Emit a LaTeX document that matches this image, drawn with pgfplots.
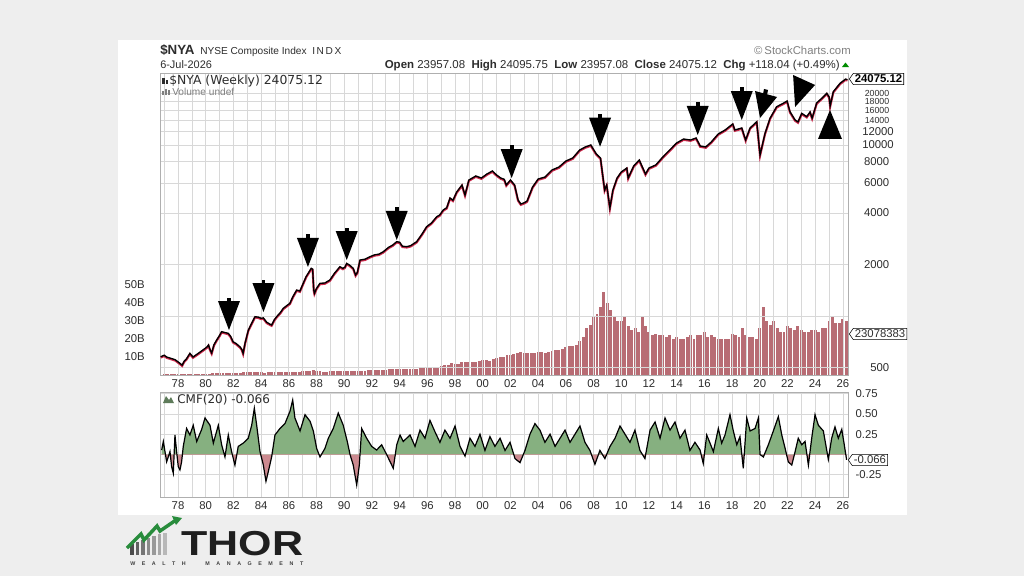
\documentclass[border=0pt]{standalone}
\usepackage{fontspec}
\setmainfont{Liberation Sans}
\newfontfamily\dejavu{DejaVu Sans}
\usepackage{pgfplots}
\usepackage{pgfplotstable}
\pgfplotsset{compat=1.18}
\usetikzlibrary{shapes.symbols}

\definecolor{bggray}{RGB}{238,238,238}
\definecolor{gridc}{RGB}{216,216,216}
\definecolor{framec}{RGB}{175,175,175}
\definecolor{volc}{RGB}{184,108,116}
\definecolor{cmfg}{RGB}{134,176,128}
\definecolor{cmfr}{RGB}{204,138,144}
\definecolor{pricered}{RGB}{205,40,75}
\definecolor{txt}{RGB}{45,45,45}
\definecolor{thorgreen}{RGB}{40,140,60}

\pgfplotstableread{
yr val
1976.75 578
1977.0 590
1977.2 575
1977.42 568
1977.8 555
1978.14 529
1978.3 516
1978.45 545
1978.6 560
1978.86 605
1979.08 576
1979.4 600
1979.8 633
1980.1 660
1980.2 677
1980.3 640
1980.43 608
1980.6 680
1980.79 724
1981.0 770
1981.15 810
1981.4 800
1981.63 792
1981.8 760
1981.97 708
1982.2 690
1982.47 661
1982.6 640
1982.7 605
1982.85 700
1983.08 828
1983.3 900
1983.56 991
1983.8 985
1984.0 970
1984.16 975
1984.4 920
1984.6 900
1984.76 886
1984.95 950
1985.12 991
1985.4 1050
1985.6 1109
1985.85 1150
1986.08 1187
1986.3 1300
1986.57 1419
1986.8 1400
1987.04 1553
1987.25 1700
1987.40 1778
1987.62 1900
1987.72 1880
1987.8 1420
1987.85 1358
1988.0 1450
1988.25 1553
1988.6 1560
1988.97 1625
1989.3 1780
1989.69 1942
1989.9 1900
1990.05 1930
1990.18 2031
1990.4 1980
1990.65 1900
1990.82 1737
1990.95 1800
1991.14 2125
1991.5 2150
1991.86 2223
1992.2 2280
1992.5 2300
1992.82 2376
1993.2 2520
1993.5 2600
1993.79 2721
1994.0 2700
1994.2 2560
1994.51 2543
1994.8 2580
1995.23 2721
1995.6 3000
1995.95 3329
1996.3 3500
1996.68 3808
1996.9 3900
1997.15 4169
1997.4 4300
1997.64 4898
1997.85 4750
1998.12 5309
1998.5 5836
1998.72 5101
1999.0 6240
1999.5 6590
1999.9 6412
2000.3 6765
2000.7 7048
2001.0 6677
2001.3 6412
2001.55 6300
2001.7 5836
2002.0 6240
2002.3 5836
2002.55 4769
2002.75 4518
2003.0 4600
2003.2 4700
2003.6 5681
2004.0 6324
2004.5 6500
2005.0 7144
2005.5 7432
2006.0 8054
2006.5 8395
2007.0 9350
2007.4 9735
2007.8 10000
2008.2 8859
2008.5 8395
2008.8 5456
2008.95 5836
2009.18 4283
2009.4 5456
2009.7 6412
2010.0 6952
2010.4 7334
2010.5 6412
2010.9 7540
2011.3 8168
2011.75 6765
2012.0 7334
2012.5 7650
2013.0 8506
2013.5 9350
2014.0 10274
2014.5 10839
2015.0 10696
2015.4 10987
2015.7 9866
2016.1 9735
2016.5 10411
2017.0 11593
2017.5 12240
2018.05 13275
2018.2 12240
2018.7 12573
2018.98 10696
2019.3 12573
2019.78 13677
2020.02 8742
2020.38 11700
2020.74 14324
2021.22 16749
2021.7 17537
2021.97 18080
2022.18 15660
2022.55 13999
2022.76 13640
2023.03 15310
2023.39 14650
2023.63 15600
2023.78 14380
2024.11 17610
2024.5 18830
2024.84 20060
2025.01 19080
2025.08 16900
2025.31 20500
2025.8 22960
2026.2 24300
2026.33 24075
}\pricedata

\pgfplotstableread{
yr vol
1977.0 0.4
1977.25 0.4
1977.5 0.4
1977.75 0.5
1978.0 0.5
1978.25 0.6
1978.5 0.6
1978.75 0.6
1979.0 0.6
1979.25 0.6
1979.5 0.7
1979.75 0.7
1980.0 0.8
1980.25 0.8
1980.5 0.9
1980.75 0.9
1981.0 0.9
1981.25 0.9
1981.5 0.9
1981.75 1.0
1982.0 1.0
1982.25 1.0
1982.5 1.2
1982.75 1.4
1983.0 1.4
1983.25 1.4
1983.5 1.4
1983.75 1.4
1984.0 1.4
1984.25 1.3
1984.5 1.4
1984.75 1.4
1985.0 1.5
1985.25 1.5
1985.5 1.5
1985.75 1.6
1986.0 1.7
1986.25 1.8
1986.5 1.8
1986.75 1.8
1987.0 2.0
1987.25 2.0
1987.5 2.1
1987.75 2.6
1988.0 2.0
1988.25 2.0
1988.5 1.9
1988.75 1.9
1989.0 2.0
1989.25 2.1
1989.5 2.1
1989.75 2.2
1990.0 2.2
1990.25 2.2
1990.5 2.3
1990.75 2.2
1991.0 2.4
1991.25 2.5
1991.5 2.5
1991.75 2.6
1992.0 2.7
1992.25 2.7
1992.5 2.8
1992.75 2.8
1993.0 3.0
1993.25 3.1
1993.5 3.1
1993.75 3.2
1994.0 3.3
1994.25 3.3
1994.5 3.3
1994.75 3.4
1995.0 3.6
1995.25 3.6
1995.5 3.8
1995.75 3.9
1996.0 4.2
1996.25 4.4
1996.5 4.5
1996.75 4.6
1997.0 5.0
1997.25 5.3
1997.5 5.5
1997.75 6.5
1998.0 6.0
1998.25 6.2
1998.5 7.0
1998.75 7.5
1999.0 7.0
1999.25 7.2
1999.5 7.5
1999.75 7.8
2000.0 8.5
2000.25 8.5
2000.5 8.0
2000.75 8.8
2001.0 9.5
2001.25 10
2001.5 9.8
2001.75 11
2002.0 11
2002.25 11.5
2002.5 12.5
2002.75 13
2003.0 12
2003.25 12
2003.5 12
2003.75 12.5
2004.0 13
2004.25 13
2004.5 12.5
2004.75 13
2005.0 13.5
2005.25 14
2005.5 14
2005.75 14.5
2006.0 15.5
2006.25 16
2006.5 16
2006.75 16.5
2007.0 19
2007.25 21
2007.5 26
2007.75 28
2008.0 32
2008.25 34
2008.5 38
2008.75 46
2009.0 40
2009.25 36
2009.5 32
2009.75 30
2010.0 30
2010.25 33
2010.5 27
2010.75 25
2011.0 26
2011.25 24
2011.5 32
2011.75 27
2012.0 24
2012.25 22
2012.5 23
2012.75 22
2013.0 22
2013.25 21
2013.5 22
2013.75 20
2014.0 21
2014.25 20
2014.5 20
2014.75 21
2015.0 22
2015.25 20
2015.5 22
2015.75 22
2016.0 24
2016.25 21
2016.5 22
2016.75 21
2017.0 20
2017.25 20
2017.5 20
2017.75 20
2018.0 23
2018.25 22
2018.5 21
2018.75 26
2019.0 22
2019.25 21
2019.5 21
2019.75 20
2020.0 26
2020.25 38
2020.5 30
2020.75 28
2021.0 30
2021.25 26
2021.5 24
2021.75 24
2022.0 27
2022.25 26
2022.5 25
2022.75 27
2023.0 25
2023.25 24
2023.5 24
2023.75 25
2024.0 25
2024.25 24
2024.5 26
2024.75 26
2025.0 30
2025.25 32
2025.5 29
2025.75 29
2026.0 31
2026.25 30
}\voldata

\pgfplotstableread{
yr cmf
1976.82 0.055
1976.94 0.16
1977.18 -0.09
1977.42 0.035
1977.54 -0.15
1977.66 -0.23
1977.78 0.24
1977.90 0.035
1978.02 -0.15
1978.14 -0.19
1978.26 -0.09
1978.38 0.1
1978.62 0.32
1978.86 0.24
1979.10 0.36
1979.35 0.16
1979.71 0.31
1979.95 0.45
1980.31 0.36
1980.55 0.14
1980.91 0.36
1981.15 0.12
1981.39 -0.03
1981.63 0.24
1981.87 0.035
1982.11 -0.13
1982.35 0.1
1982.71 0.14
1983.07 0.2
1983.32 0.36
1983.51 0.57
1983.68 0.36
1983.92 0.035
1984.16 -0.13
1984.35 -0.33
1984.52 -0.21
1984.76 -0.03
1985.00 0.24
1985.36 0.32
1985.72 0.38
1986.08 0.53
1986.28 0.67
1986.44 0.45
1986.81 0.29
1987.17 0.49
1987.53 0.41
1987.77 0.29
1988.01 0.075
1988.25 -0.03
1988.61 0.075
1988.85 0.2
1989.21 0.32
1989.57 0.51
1989.93 0.36
1990.22 0.16
1990.42 0
1990.65 -0.13
1990.90 -0.375
1991.09 -0.13
1991.26 0.32
1991.62 0.2
1991.98 0.1
1992.34 0.055
1992.70 0.12
1993.06 0
1993.43 -0.13
1993.54 -0.17
1993.79 0.12
1994.03 0.24
1994.26 0.16
1994.75 0.24
1995.11 0.1
1995.47 0.3
1995.83 0.2
1996.19 0.42
1996.55 0.28
1996.91 0.15
1997.27 0.3
1997.64 0.2
1998.0 0.35
1998.36 0.1
1998.72 -0.02
1999.08 0.2
1999.44 0.1
1999.80 0.25
2000.16 0.05
2000.52 0.22
2000.88 0.1
2001.25 0.2
2001.61 0.05
2001.97 0.15
2002.33 -0.05
2002.69 -0.1
2003.05 0.05
2003.41 0.25
2003.77 0.38
2004.13 0.3
2004.49 0.15
2004.86 0.25
2005.22 0.1
2005.58 0.2
2005.94 0.3
2006.30 0.15
2006.66 0.25
2007.02 0.35
2007.38 0.15
2007.74 0.05
2008.10 -0.12
2008.46 0.05
2008.82 -0.05
2009.19 0.1
2009.55 0.2
2009.91 0.35
2010.27 0.25
2010.63 0.15
2010.99 0.3
2011.35 0.05
2011.71 -0.05
2012.08 0.3
2012.44 0.4
2012.80 0.2
2013.16 0.45
2013.52 0.3
2013.88 0.4
2014.24 0.2
2014.60 0.3
2014.96 0.05
2015.32 0.15
2015.69 0.055
2015.92 -0.11
2016.17 0.24
2016.41 0.14
2016.65 0.035
2017.01 0.32
2017.25 0.14
2017.49 0.24
2017.85 0.49
2018.09 0.29
2018.34 0.12
2018.57 0.22
2018.81 -0.17
2019.06 0.45
2019.30 0.29
2019.66 0.32
2019.90 0.45
2020.02 0
2020.26 -0.03
2020.62 0.12
2020.98 0.29
2021.34 0.465
2021.59 0.24
2021.83 0.075
2022.06 -0.09
2022.31 -0.13
2022.55 0.035
2022.78 0.2
2023.03 0.12
2023.27 0.16
2023.51 -0.13
2023.75 0.2
2023.99 0.49
2024.23 0.36
2024.59 0.29
2024.95 -0.06
2025.19 0.2
2025.43 0.34
2025.67 0.2
2025.92 0.31
2026.10 0.12
2026.27 -0.066
}\cmfdata

\pgfplotsset{chartbase/.style={
  scale only axis, width=516pt, xmin=1976.7, xmax=2026.37,
  tick style={draw=none},
  axis line style={framec, line width=0.6pt},
  ticklabel style={font=\fontsize{8.5}{10}\selectfont, text=txt},
  /pgf/number format/assume math mode=true,
  xtick={1978,1980,...,2026},
  xticklabels={78,80,82,84,86,88,90,92,94,96,98,00,02,04,06,08,10,12,14,16,18,20,22,24,26},
  minor xtick={1977,1979,...,2025},
  grid style={gridc, line width=0.5pt},
  minor grid style={gridc, line width=0.5pt},
}}

\newcommand{\darr}[2]{%
  \fill (axis cs:#1,#2) -- ++(-8.25pt,21.75pt) -- ++(16.5pt,0pt) -- cycle;
  \fill (axis cs:#1,#2) ++(-1.4pt,21pt) rectangle ++(2.8pt,3.4pt);}
\newcommand{\sm}[1]{{\fontsize{6.6}{7}\selectfont #1}}

\begin{document}
\begin{tikzpicture}
\begin{scope}[x=0.75pt,y=-0.75pt]
\fill[bggray] (0,0) rectangle (1024,576);
\fill[white] (118,40) rectangle (907,515);
\end{scope}

% volume
\begin{axis}[chartbase, at={(120pt,-54.75pt)}, anchor=north west, height=226.5pt,
  ymin=0, ymax=167.8, axis line style={draw=none},
  xtick=\empty, minor xtick=\empty,
  ytick={10,20,30,40,50}, yticklabels={10B,20B,30B,40B,50B},
  yticklabel style={anchor=east, inner sep=0pt, xshift=-11.25pt}]
\addplot[ycomb, volc, line width=2.2pt] table[x=yr, y=vol] {\voldata};
\end{axis}

% price
\begin{axis}[chartbase, at={(120pt,-54.75pt)}, anchor=north west, height=226.5pt,
  ymode=log, ymin=452, ymax=26360,
  xmajorgrids, xminorgrids, ymajorgrids,
  ytick={500,1000,2000,4000,6000,8000,10000,12000,14000,16000,18000,20000},
  yticklabels={500,,2000,4000,6000,8000,10000,12000,\sm{14000},\sm{16000},\sm{18000},\sm{20000}},
  yticklabel pos=right,
  yticklabel style={anchor=west, inner sep=0pt, text width=20.25pt, align=right, xshift=10.5pt}]
\addplot[pricered, line width=1.6pt, yshift=-0.6pt] table[x=yr, y=val] {\pricedata};
\addplot[black, line width=1.0pt] table[x=yr, y=val] {\pricedata};
\darr{1981.68}{828}
\darr{1984.17}{1055}
\darr{1987.38}{1936}
\darr{1990.18}{2124}
\darr{1993.79}{2783}
\darr{2002.09}{6410}
\darr{2008.47}{9774}
\darr{2015.52}{11441}
\darr{2018.70}{13999}
\fill (axis cs:2020.02,14385) -- ++(-3.75pt,20.25pt) -- ++(16.5pt,-4.5pt) -- cycle;
\fill (axis cs:2020.02,14385) ++(2.25pt,18pt) -- ++(3pt,-0.75pt) -- ++(0.75pt,3.75pt) -- ++(-3pt,0.75pt) -- cycle;
\fill (axis cs:2022.55,16684) -- ++(-1.5pt,24pt) -- ++(16.5pt,-7.5pt) -- cycle;
\fill (axis cs:2025.07,16024) -- ++(-9pt,-21.75pt) -- ++(18pt,0pt) -- cycle;
\end{axis}

% CMF
\begin{axis}[chartbase, at={(120pt,-294pt)}, anchor=north west, height=78.75pt,
  ymin=-0.523, ymax=0.769,
  xmajorgrids, xminorgrids, ymajorgrids,
  ytick={-0.25,0,0.25,0.5,0.75}, yticklabels={-0.25,,0.25,0.50,0.75},
  yticklabel pos=right,
  yticklabel style={anchor=west, inner sep=0pt, xshift=5.5pt}]
\begin{scope}
\clip (axis cs:1976,0) rectangle (axis cs:2027,1);
\addplot[fill=cmfg, draw=none] table[x=yr, y=cmf] {\cmfdata} \closedcycle;
\end{scope}
\begin{scope}
\clip (axis cs:1976,-1) rectangle (axis cs:2027,0);
\addplot[fill=cmfr, draw=none] table[x=yr, y=cmf] {\cmfdata} \closedcycle;
\end{scope}
\addplot[black, line width=0.9pt] table[x=yr, y=cmf] {\cmfdata};
\end{axis}

\begin{scope}[x=0.75pt,y=-0.75pt]
% header
\node[anchor=base west, inner sep=0, text=txt] at (160,54) {\fontsize{10}{12}\selectfont\bfseries\$NYA};
\node[anchor=base west, inner sep=0, text=txt] at (200,54) {\fontsize{7.6}{9}\selectfont NYSE Composite Index};
\node[anchor=base west, inner sep=0, text=txt] at (312,54) {\fontsize{7.6}{9}\selectfont I\kern1.2pt N\kern1.2pt D\kern1.2pt X};
\node[anchor=base east, inner sep=0, text=gray] at (851,54) {\fontsize{8.5}{10}\selectfont \textcopyright\,StockCharts.com};
\node[anchor=base west, inner sep=0, text=txt] at (160,68) {\fontsize{8.2}{10}\selectfont 6-Jul-2026};
\node[anchor=base east, inner sep=0, text=txt] at (840,68) {\fontsize{8.6}{10}\selectfont \textbf{Open} 23957.08\ \ \textbf{High} 24095.75\ \ \textbf{Low} 23957.08\ \ \textbf{Close} 24075.12\ \ \textbf{Chg} +118.04 (+0.49\%)};
\fill[green!55!black] (842,67) -- (849,67) -- (845.5,62.5) -- cycle;
% panel texts
\fill[txt] (162,78) rectangle (165,84); \fill[txt] (166,80) rectangle (168,84);
\node[anchor=base west, inner sep=0, text=txt] at (169,84.5) {\dejavu\fontsize{9.3}{11}\selectfont \$NYA (Weekly) 24075.12};
\fill[gray] (162,91) rectangle (164,95); \fill[gray] (165,89) rectangle (167,95); \fill[gray] (168,90) rectangle (170,95);
\node[anchor=base west, inner sep=0, text=gray] at (172,95.5) {\fontsize{7.6}{9}\selectfont Volume undef};
\fill[cmfg!70!black] (163,403) -- (166,396) -- (169,400) -- (171,397) -- (174,403) -- cycle;
\node[anchor=base west, inner sep=0, text=txt] at (177,403.3) {\dejavu\fontsize{9}{11}\selectfont CMF(20) -0.066};
% value boxes
\node[draw=black, fill=white, signal, signal to=west, signal pointer angle=110, inner sep=1.2pt, anchor=west, font=\fontsize{8.5}{10}\selectfont\bfseries] at (849,79) {24075.12};
\node[draw=black, fill=white, signal, signal to=west, signal pointer angle=110, inner sep=1.2pt, anchor=west, font=\fontsize{8.5}{10}\selectfont, text=txt] at (849,334) {23078383};
\node[draw=black, fill=white, signal, signal to=west, signal pointer angle=110, inner sep=1.2pt, anchor=west, font=\fontsize{8.5}{10}\selectfont, text=txt] at (848,460) {-0.066};
% THOR logo
\foreach \i/\h/\g in {0/11/70,1/13/62,2/15/54,3/17/46,4/19/40,5/21/34,6/22/28}{
  \fill[black!\g] ({130+\i*5.5},555) rectangle ({133.5+\i*5.5},{555-\h});
}
\draw[thorgreen, line width=2.6pt, line join=miter] (127,548) -- (141,534) -- (144,540) -- (157,526) -- (160,531) -- (176,520);
\fill[thorgreen] (172,516) -- (182,518) -- (176,525) -- cycle;
\node[anchor=base west, inner sep=0, text=black!88] at (181,555) {\scalebox{1.24}[1]{\fontsize{26}{28}\selectfont\bfseries THOR}};
\node[anchor=base west, inner sep=0, text=black!75] at (130,565.5) {\makebox[129.75pt][s]{\fontsize{4}{5}\selectfont\bfseries W\hfill E\hfill A\hfill L\hfill T\hfill H\hfill\hfill\hfill M\hfill A\hfill N\hfill A\hfill G\hfill E\hfill M\hfill E\hfill N\hfill T}};
\end{scope}
\end{tikzpicture}
\end{document}
